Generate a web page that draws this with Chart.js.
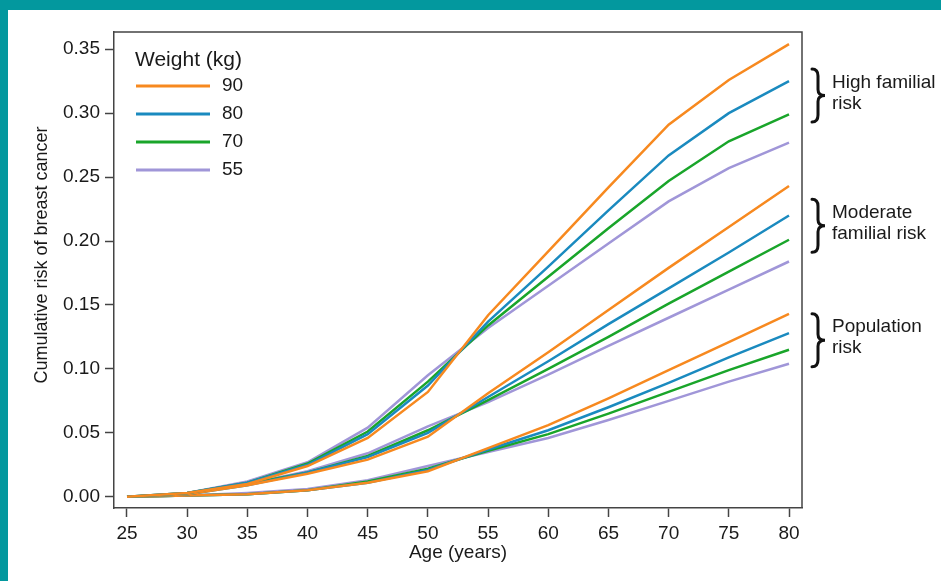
<!DOCTYPE html>
<html>
<head>
<meta charset="utf-8">
<script src="https://cdn.jsdelivr.net/npm/chart.js@4"></script>
<style>
    html, body { margin: 0; padding: 0; }
    body { width: 941px; height: 581px; background: #03989e; position: relative; overflow: hidden; }
    .panel { position: absolute; left: 8px; top: 10px; width: 933px; height: 571px; background: #fff; }
</style>
</head>
<body>
<div class="panel"><canvas id="riskChart" width="933" height="571"></canvas></div>
<script>
const ages = [25, 30, 35, 40, 45, 50, 55, 60, 65, 70, 75, 80]
const weights = ["90", "80", "70", "55"]
const weightColors = ["#f7891f", "#1a8abf", "#19a52a", "#a096d8"]
const xTicks = [25, 30, 35, 40, 45, 50, 55, 60, 65, 70, 75, 80]
const yTicks = [0, 0.05, 0.1, 0.15, 0.2, 0.25, 0.3, 0.35]

// high familial risk
const high90 = [0.000, 0.003, 0.010, 0.024, 0.046, 0.082, 0.142, 0.192, 0.242, 0.291, 0.326, 0.354]
const high80 = [0.000, 0.003, 0.011, 0.025, 0.049, 0.087, 0.137, 0.180, 0.224, 0.267, 0.300, 0.325]
const high70 = [0.000, 0.003, 0.011, 0.026, 0.051, 0.090, 0.134, 0.172, 0.210, 0.247, 0.278, 0.299]
const high55 = [0.000, 0.003, 0.012, 0.027, 0.054, 0.095, 0.132, 0.165, 0.198, 0.231, 0.257, 0.277]

// moderate familial risk
const moderate90 = [0.000, 0.002, 0.009, 0.018, 0.029, 0.047, 0.081, 0.113, 0.146, 0.179, 0.211, 0.243]
const moderate80 = [0.000, 0.002, 0.009, 0.019, 0.031, 0.050, 0.078, 0.106, 0.135, 0.163, 0.191, 0.220]
const moderate70 = [0.000, 0.002, 0.010, 0.019, 0.032, 0.052, 0.0755, 0.100, 0.125, 0.151, 0.176, 0.201]
const moderate55 = [0.000, 0.002, 0.010, 0.020, 0.034, 0.055, 0.074, 0.0955, 0.118, 0.140, 0.162, 0.184]

// population risk
const population90 = [0.000, 0.001, 0.002, 0.005, 0.011, 0.020, 0.038, 0.056, 0.077, 0.099, 0.121, 0.143]
const population80 = [0.000, 0.001, 0.002, 0.005, 0.011, 0.021, 0.037, 0.052, 0.070, 0.089, 0.109, 0.128]
const population70 = [0.000, 0.001, 0.002, 0.005, 0.012, 0.022, 0.036, 0.049, 0.065, 0.082, 0.099, 0.115]
const population55 = [0.000, 0.001, 0.003, 0.006, 0.013, 0.024, 0.035, 0.046, 0.060, 0.075, 0.090, 0.104]

const groups = [
    { label: ["High familial", "risk"], series: [high90, high80, high70, high55] },
    { label: ["Moderate", "familial risk"], series: [moderate90, moderate80, moderate70, moderate55] },
    { label: ["Population", "risk"], series: [population90, population80, population70, population55] },
]

const fontFamily = "Arial, 'Liberation Sans', sans-serif"
const inkColor = "#1a1a1a"
const axisColor = "#444"

Chart.defaults.font.family = fontFamily
Chart.defaults.color = inkColor

function buildDatasets() {
    const datasets = []
    groups.forEach((group) => {
        group.series.forEach((values, i) => {
            datasets.push({
                label: weights[i],
                data: values.map((v, k) => ({ x: ages[k], y: v })),
                borderColor: weightColors[i],
                backgroundColor: weightColors[i],
                borderWidth: 2.5,
                pointRadius: 0,
                tension: 0,
            })
        })
    })
    return datasets
}

// frame, legend, y title and the brace notes on the right
const notesPlugin = {
    id: "notes",
    afterDraw(chart) {
        const ctx = chart.ctx
        const area = chart.chartArea
        const yScale = chart.scales.y

        ctx.save()
        ctx.strokeStyle = axisColor
        ctx.lineWidth = 1.5
        ctx.beginPath()
        ctx.moveTo(area.left, area.top)
        ctx.lineTo(area.right, area.top)
        ctx.lineTo(area.right, area.bottom)
        ctx.stroke()

        // legend
        ctx.fillStyle = inkColor
        ctx.textBaseline = "middle"
        ctx.textAlign = "left"
        ctx.font = "21px " + fontFamily
        ctx.fillText("Weight (kg)", area.left + 21, area.top + 28)
        ctx.font = "19px " + fontFamily
        weights.forEach((w, i) => {
            const y = area.top + 54 + i * 28
            ctx.strokeStyle = weightColors[i]
            ctx.lineWidth = 3
            ctx.beginPath()
            ctx.moveTo(area.left + 22, y)
            ctx.lineTo(area.left + 96, y)
            ctx.stroke()
            ctx.fillText(w, area.left + 108, y)
        })

        // y axis title
        ctx.save()
        ctx.translate(34, area.top + 223)
        ctx.rotate(-Math.PI / 2)
        ctx.textAlign = "center"
        ctx.font = "18px " + fontFamily
        ctx.fillText("Cumulative risk of breast cancer", 0, 0)
        ctx.restore()

        // braces
        groups.forEach((group) => {
            const ends = group.series.map((s) => s[s.length - 1])
            const mean = ends.reduce((a, b) => a + b, 0) / ends.length
            const c = yScale.getPixelForValue(mean)
            const h = 26.5
            const x0 = area.right + 10
            const xm = x0 + 6
            const x1 = x0 + 13
            ctx.strokeStyle = "#111"
            ctx.lineWidth = 3
            ctx.lineCap = "round"
            ctx.beginPath()
            ctx.moveTo(x0, c - h)
            ctx.quadraticCurveTo(xm, c - h, xm, c - h + 7)
            ctx.lineTo(xm, c - 6)
            ctx.quadraticCurveTo(xm, c, x1, c)
            ctx.quadraticCurveTo(xm, c, xm, c + 6)
            ctx.lineTo(xm, c + h - 7)
            ctx.quadraticCurveTo(xm, c + h, x0, c + h)
            ctx.stroke()

            ctx.fillStyle = inkColor
            ctx.font = "19px " + fontFamily
            ctx.textAlign = "left"
            ctx.fillText(group.label[0], area.right + 30, c - 13)
            ctx.fillText(group.label[1], area.right + 30, c + 8)
        })
        ctx.restore()
    },
}

const myChart = new Chart(document.getElementById("riskChart").getContext("2d"), {
    type: "line",
    data: { datasets: buildDatasets() },
    options: {
        responsive: false,
        animation: false,
        layout: { padding: { top: 22, right: 139, left: 0, bottom: 0 } },
        plugins: {
            legend: { display: false },
            tooltip: { enabled: false },
        },
        scales: {
            x: {
                type: "linear",
                min: 23.92,
                max: 81.08,
                afterFit: (scale) => { scale.height = 73 },
                afterBuildTicks: (scale) => { scale.ticks = xTicks.map((v) => ({ value: v })) },
                border: { color: axisColor, width: 1.5 },
                grid: { drawOnChartArea: false, tickLength: 9, tickColor: axisColor, tickWidth: 1.5 },
                ticks: { font: { size: 19 }, color: inkColor, padding: 5, maxRotation: 0 },
                title: { display: true, text: "Age (years)", font: { size: 19 }, color: inkColor, padding: { top: 0, bottom: 17 } },
            },
            y: {
                min: -0.0088,
                max: 0.3635,
                afterFit: (scale) => { scale.width = 106 },
                afterBuildTicks: (scale) => { scale.ticks = yTicks.map((v) => ({ value: v })) },
                border: { color: axisColor, width: 1.5 },
                grid: { drawOnChartArea: false, tickLength: 9, tickColor: axisColor, tickWidth: 1.5 },
                ticks: { font: { size: 19 }, color: inkColor, padding: 5, callback: (v) => v.toFixed(2) },
            },
        },
    },
    plugins: [notesPlugin],
})
</script>
</body>
</html>
